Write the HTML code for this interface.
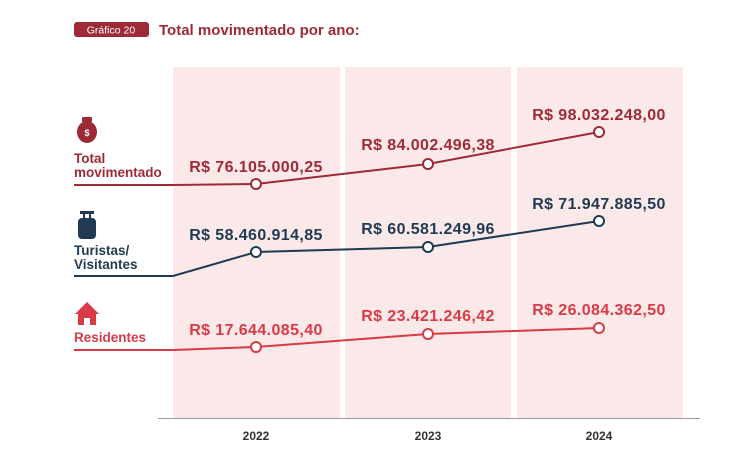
<!DOCTYPE html>
<html><head><meta charset="utf-8"><style>
body{margin:0;background:#fff;font-family:"Liberation Sans",sans-serif}
</style></head><body>
<svg width="750" height="465" xmlns="http://www.w3.org/2000/svg" font-family="Liberation Sans, sans-serif" font-weight="bold">
<rect x="0" y="0" width="750" height="465" fill="#fff"/>
<rect x="74" y="22" width="75" height="15" rx="3" fill="#9e2a36"/>
<text x="111" y="33.5" font-size="10.5" fill="#fff" text-anchor="middle" font-weight="normal">Gráfico 20</text>
<text x="159" y="35" font-size="15" fill="#9e2a36">Total movimentado por ano:</text>
<rect x="173" y="67" width="167" height="351" fill="#fbe9ea"/>
<rect x="345" y="67" width="166" height="351" fill="#fbe9ea"/>
<rect x="517" y="67" width="166" height="351" fill="#fbe9ea"/>
<line x1="158" y1="418.5" x2="700" y2="418.5" stroke="#999" stroke-width="1"/>
<g font-size="12" fill="#333" text-anchor="middle">
<text x="256" y="440">2022</text><text x="428" y="440">2023</text><text x="599" y="440">2024</text></g>
<g fill="#9e2a36"><rect x="82" y="117" width="10" height="5" rx="1"/><ellipse cx="87" cy="132" rx="10" ry="11"/></g>
<text x="87" y="136" font-size="9" fill="#fff" text-anchor="middle">$</text>
<g fill="#1f3a52"><rect x="80" y="211" width="14" height="3"/><rect x="83" y="213" width="2" height="5"/><rect x="89" y="213" width="2" height="5"/><rect x="78" y="218" width="18" height="21" rx="4"/></g>
<g fill="#d93a45"><polygon points="87,302 75,314 99,314"/><rect x="78" y="313" width="18" height="12"/></g>
<rect x="84" y="318" width="6" height="7" fill="#fff"/>
<g font-size="13.5">
<text x="74" y="163" fill="#9e2a36">Total</text><text x="74" y="177" fill="#9e2a36">movimentado</text>
<text x="74" y="255" fill="#1f3a52">Turistas/</text><text x="74" y="269" fill="#1f3a52">Visitantes</text>
<text x="74" y="342" fill="#d93a45">Residentes</text></g>
<g fill="none" stroke-width="2">
<polyline points="74,185 173,185 256,184 428,164 599,132" stroke="#9e2a36"/>
<polyline points="74,276 173,276 256,252 428,247 599,221" stroke="#1f3a52"/>
<polyline points="74,350 173,350 256,347 428,334 599,328" stroke="#d93a45"/>
</g>
<g fill="#fff" stroke-width="2">
<circle cx="256" cy="184" r="5" stroke="#9e2a36"/><circle cx="428" cy="164" r="5" stroke="#9e2a36"/><circle cx="599" cy="132" r="5" stroke="#9e2a36"/>
<circle cx="256" cy="252" r="5" stroke="#1f3a52"/><circle cx="428" cy="247" r="5" stroke="#1f3a52"/><circle cx="599" cy="221" r="5" stroke="#1f3a52"/>
<circle cx="256" cy="347" r="5" stroke="#d93a45"/><circle cx="428" cy="334" r="5" stroke="#d93a45"/><circle cx="599" cy="328" r="5" stroke="#d93a45"/>
</g>
<g font-size="16" letter-spacing="0.4" text-anchor="middle">
<text x="256" y="172" fill="#9e2a36">R$ 76.105.000,25</text>
<text x="428" y="150" fill="#9e2a36">R$ 84.002.496,38</text>
<text x="599" y="120" fill="#9e2a36">R$ 98.032.248,00</text>
<text x="256" y="240" fill="#1f3a52">R$ 58.460.914,85</text>
<text x="428" y="234" fill="#1f3a52">R$ 60.581.249,96</text>
<text x="599" y="209" fill="#1f3a52">R$ 71.947.885,50</text>
<text x="256" y="335" fill="#d93a45">R$ 17.644.085,40</text>
<text x="428" y="321" fill="#d93a45">R$ 23.421.246,42</text>
<text x="599" y="315" fill="#d93a45">R$ 26.084.362,50</text>
</g>
</svg>
</body></html>
